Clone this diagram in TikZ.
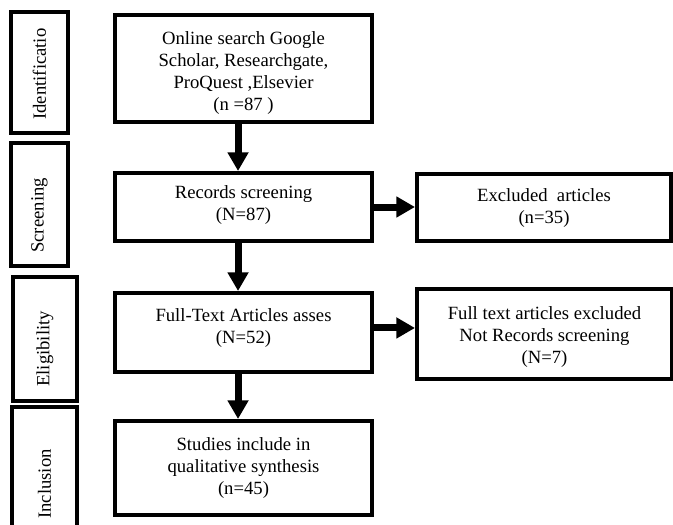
\documentclass[tikz,border=0pt]{standalone}
\usepackage{fontspec}
\setmainfont{Liberation Serif}
\usetikzlibrary{arrows.meta}
\begin{document}
\begin{tikzpicture}[x=0.75pt,y=-0.75pt,
  box/.style={draw, line width=3pt, minimum width=192.75pt, inner sep=0pt},
  boxtext/.style={align=center, inner sep=0pt, font=\fontsize{14}{16.5}\selectfont},
  stagebox/.style={draw, line width=3pt, inner sep=0pt},
  stagetext/.style={rotate=90, anchor=west, font=\fontsize{14}{16.5}\selectfont, inner sep=0pt},
  arr/.style={line width=5.25pt, -{Triangle[length=14pt,width=15pt]}}]
\useasboundingbox (0,0) rectangle (673,524);
\clip (0,0) rectangle (673,524);
\fill[white] (0,0) rectangle (673,524);
% main flow boxes
\node[box, minimum height=80.25pt] (b1) at (243.5,68.5) {};
\node[box, minimum height=51pt] (b2) at (243.5,207) {};
\node[box, minimum height=59.25pt] (b3) at (243.5,332.5) {};
\node[box, minimum height=70.5pt] (b4) at (243.5,468) {};
\node[box, minimum width=190.5pt, minimum height=50.25pt] (r1) at (544,207.5) {};
\node[box, minimum width=191.25pt, minimum height=67.5pt] (r2) at (544.5,334) {};
% box texts
\node[boxtext] (b1t) at ([yshift=-3.75pt]b1.center) {Online search Google\\Scholar, Researchgate,\\ProQuest ,Elsevier\\(n =87 )};
\node[boxtext] (b2t) at ([yshift=1.5pt]b2.center) {Records screening\\(N=87)};
\node[boxtext] (b3t) at ([yshift=3.5pt]b3.center) {Full-Text Articles asses\\(N=52)};
\node[boxtext] (b4t) at (b4.center) {Studies include in\\qualitative synthesis\\(n=45)};
\node[boxtext] (r1t) at ([yshift=-0.5pt]r1.center) {Excluded\ \ articles\\(n=35)};
\node[boxtext] (r2t) at ([yshift=-2.5pt]r2.center) {Full text articles excluded\\Not Records screening\\(N=7)};
% stage boxes
\node[stagebox, minimum width=42.75pt, minimum height=90.75pt] (s1) at (39.5,72.5) {};
\node[stagebox, minimum width=42.75pt, minimum height=92.25pt] (s2) at (39.5,204.5) {};
\node[stagebox, minimum width=48pt, minimum height=93pt] (s3) at (45,339) {};
\node[stagebox, minimum width=48.75pt, minimum height=99.75pt] (s4) at (44.5,473.5) {};
\node[stagetext] (t1) at ([yshift=11.25pt]s1.south) {Identificatio};
\node[stagetext] (t2) at ([yshift=11.25pt]s2.south) {Screening};
\node[stagetext] (t3) at ([yshift=12pt]s3.south) {Eligibility};
\node[stagetext] (t4) at (44.5,519) {Inclusion};
% arrows
\draw[arr] ([xshift=-4.1pt]b1.south) -- ([xshift=-4.1pt]b2.north);
\draw[arr] ([xshift=-4.1pt]b2.south) -- ([xshift=-4.1pt]b3.north);
\draw[arr] ([xshift=-4.1pt]b3.south) -- ([xshift=-4.1pt]b4.north);
\draw[arr] (b2.east) -- (b2.east -| r1.west);
\coordinate (h2) at ([yshift=3.4pt]b3.east);
\draw[arr] (h2) -- (h2 -| r2.west);
\end{tikzpicture}
\end{document}
